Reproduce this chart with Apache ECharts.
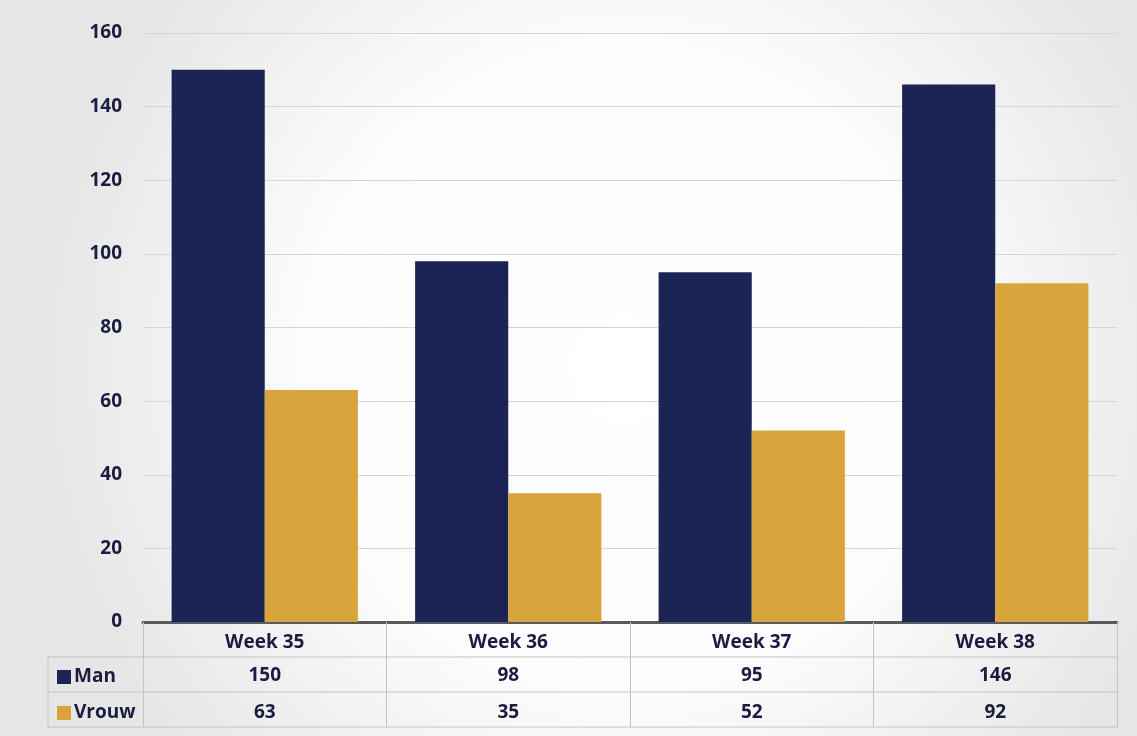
<!DOCTYPE html>
<html>
<head>
<meta charset="utf-8">
<script src="https://cdn.jsdelivr.net/npm/echarts@6/dist/echarts.min.js"></script>
<style>
html,body{margin:0;padding:0;}
#chart{width:1137px;height:736px;}
</style>
</head>
<body>
<div id="chart"></div>
<script>
const categories = ['Week 35', 'Week 36', 'Week 37', 'Week 38'];
const seriesNames = ['Man', 'Vrouw'];
const manValues = [150, 98, 95, 146];
const vrouwValues = [63, 35, 52, 92];
const yMin = 0, yMax = 160, yInterval = 20;

const NAVY = '#1b2455';
const GOLD = '#d8a53c';
const TEXT = '#1a1d3f';
const FONT = '"Open Sans", sans-serif';

const W = 1137, H = 736;
const GL = 143, GR = 20, GT = 33, GB = 114;
const AXIS_Y = H - GB;      // 622
const ROW = 35;
const TABLE_LEFT = 48;
const LINE_C = '#c4c4c4';

const chart = echarts.init(document.getElementById('chart'));

const lbl = { color: TEXT, fontFamily: FONT, fontWeight: 700, fontSize: 19 };

const graphics = [
  {
    type: 'rect', z: -100, silent: true,
    shape: { x: 0, y: 0, width: W, height: H },
    style: {
      fill: new echarts.graphic.RadialGradient(0.55, 0.5, 0.8, [
        { offset: 0, color: '#ffffff' },
        { offset: 0.55, color: '#fcfcfc' },
        { offset: 1, color: '#e6e6e6' }
      ])
    }
  }
];
// table horizontal lines
for (let i = 1; i <= 3; i++) {
  graphics.push({
    type: 'line', silent: true, z: 5,
    shape: { x1: TABLE_LEFT, y1: AXIS_Y + ROW * i, x2: W - GR, y2: AXIS_Y + ROW * i },
    style: { stroke: LINE_C, lineWidth: 1 }
  });
}
// left column vertical line
graphics.push({
  type: 'line', silent: true, z: 5,
  shape: { x1: TABLE_LEFT, y1: AXIS_Y + ROW, x2: TABLE_LEFT, y2: AXIS_Y + ROW * 3 },
  style: { stroke: LINE_C, lineWidth: 1 }
});

const option = {
  animation: false,
  backgroundColor: 'transparent',
  color: [NAVY, GOLD],
  grid: { left: GL, right: GR, top: GT, bottom: GB, containLabel: false },
  legend: {
    orient: 'vertical',
    left: TABLE_LEFT + 4,
    top: AXIS_Y + ROW + 3,
    itemWidth: 14,
    itemHeight: 14,
    itemGap: 12,
    icon: 'rect',
    selectedMode: false,
    textStyle: Object.assign({}, lbl, { padding: [0, 0, 0, -2], lineHeight: 24 }),
    data: seriesNames
  },
  xAxis: [
    {
      type: 'category', data: categories, position: 'bottom',
      axisLine: { show: true, lineStyle: { color: '#5a5a5a', width: 3 } },
      axisTick: { show: true, length: ROW * 3, lineStyle: { color: LINE_C, width: 1 } },
      axisLabel: Object.assign({ margin: 11 }, lbl),
      splitLine: { show: false }
    },
    {
      type: 'category', data: manValues.map(String), position: 'bottom', offset: ROW,
      axisLine: { show: false }, axisTick: { show: false },
      axisLabel: Object.assign({ margin: 9 }, lbl)
    },
    {
      type: 'category', data: vrouwValues.map(String), position: 'bottom', offset: ROW * 2,
      axisLine: { show: false }, axisTick: { show: false },
      axisLabel: Object.assign({ margin: 11 }, lbl)
    }
  ],
  yAxis: {
    type: 'value', min: yMin, max: yMax, interval: yInterval,
    axisLine: { show: false }, axisTick: { show: false },
    axisLabel: Object.assign({ margin: 21 }, lbl),
    splitLine: { show: true, lineStyle: { color: '#d6d6d6', width: 1 } }
  },
  series: [
    {
      name: seriesNames[0], type: 'bar', data: manValues, xAxisIndex: 0,
      barGap: '0%', barCategoryGap: '23.5%',
      itemStyle: { color: NAVY }
    },
    {
      name: seriesNames[1], type: 'bar', data: vrouwValues, xAxisIndex: 0,
      barGap: '0%', barCategoryGap: '23.5%',
      itemStyle: { color: GOLD }
    }
  ],
  graphic: graphics
};
chart.setOption(option);
</script>
</body>
</html>
